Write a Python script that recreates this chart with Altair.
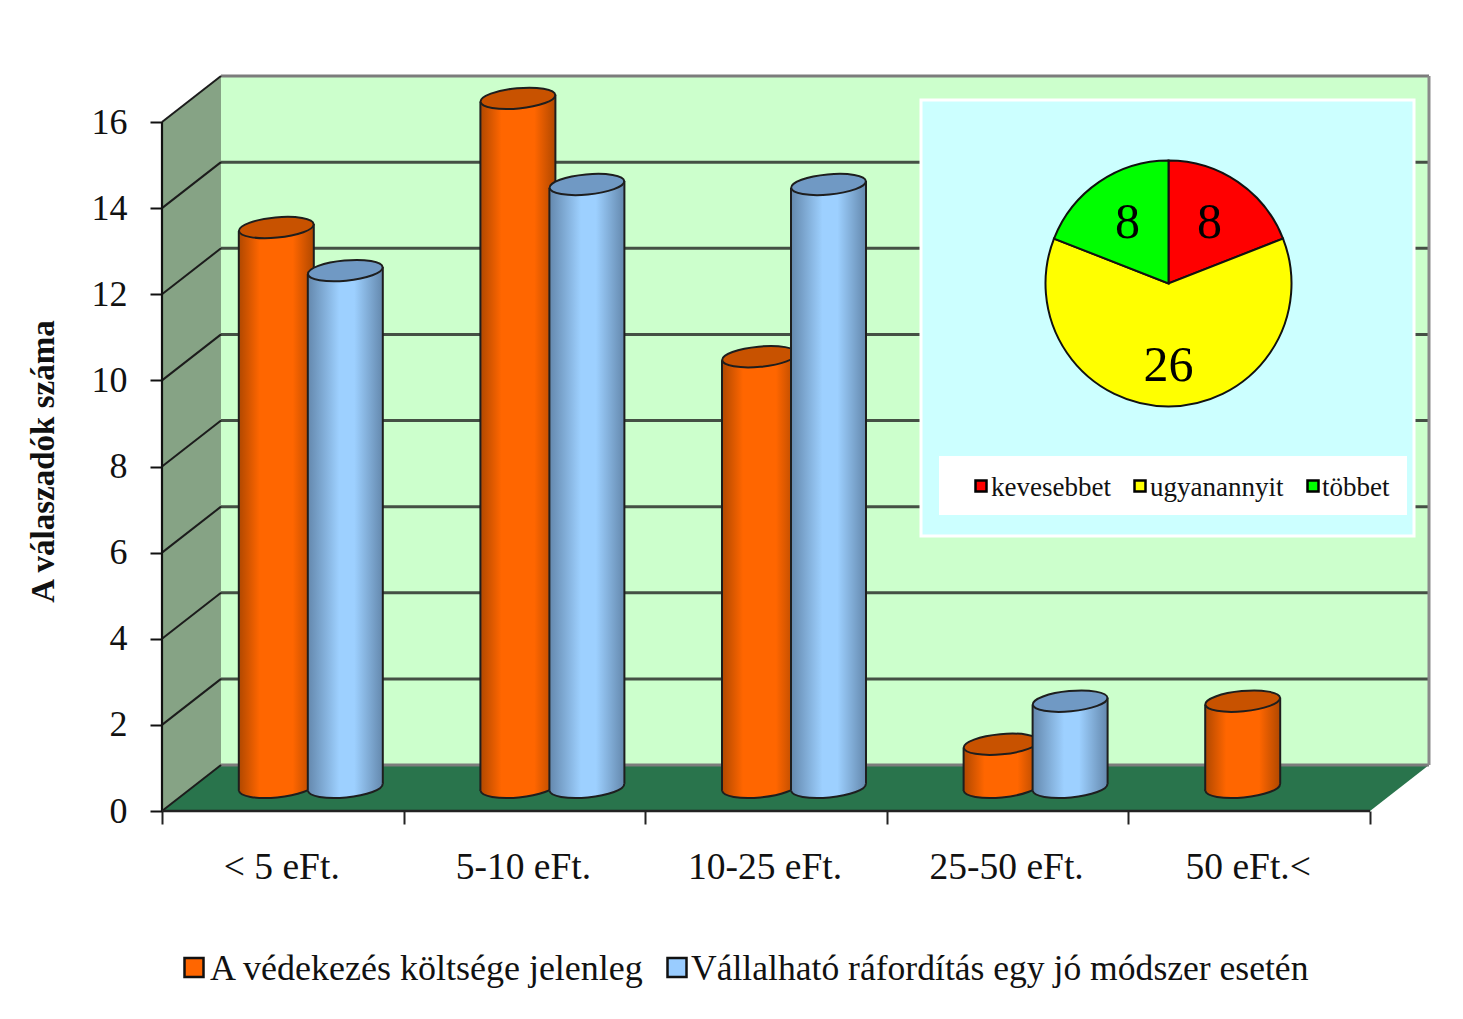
import math
import altair as alt
import pandas as pd

# ---- values ----
categories = ["< 5 eFt.", "5-10 eFt.", "10-25 eFt.", "25-50 eFt.", "50 eFt.<"]
current_cost = [13, 16, 10, 1, 2]
acceptable_cost = [12, 14, 14, 2, 0]
series_names = ["A védekezés költsége jelenleg", "Vállalható ráfordítás egy jó módszer esetén"]
y_ticks = [0, 2, 4, 6, 8, 10, 12, 14, 16]
pie_names = ["kevesebbet", "ugyanannyit", "többet"]
pie_values = [8, 26, 8]
pie_colors = ["#ff0000", "#ffff00", "#00ff00"]

# ---- geometry of the pseudo 3D frame ----
FONT = "Liberation Serif"
LEFT, TOP = 162, 76           # page position of the plot origin
W, H = 1268, 735
UX, UY = 241.6, 43.06         # pixels per category / per answer
DX, DY = 59 / UX, 46 / UY     # depth of the box
BASE = 0.55                   # cylinder floor level
TILT = 3.5 / UY
HALF = 37.5 / UX
INK = "#1e1e1e"


def px(x):
    return x - LEFT


def py(y):
    return y - TOP


x_scale = alt.Scale(domain=[0, W / UX], nice=False, zero=False)
y_scale = alt.Scale(domain=[0, H / UY], nice=False, zero=False)

x_axis = alt.Axis(values=[0, 1, 2, 3, 4, 5], labels=False, domain=False, grid=False,
                  tickSize=13, tickWidth=2, tickColor="#222222", title=None)
y_axis = alt.Axis(values=y_ticks, format="d", domain=False, grid=False,
                  tickSize=12, tickWidth=2, tickColor="#111111", labelPadding=23,
                  labelFont=FONT, labelFontSize=36, labelColor="#111111",
                  title="A válaszadók száma",
                  titleFont=FONT, titleFontSize=33, titleFontWeight="bold", titleColor="#111111",
                  titleAngle=-90, titleAlign="center", titleBaseline="alphabetic",
                  titleX=px(53), titleY=py(461))


def X(f="x"):
    return alt.X(f"{f}:Q", scale=x_scale, axis=x_axis)


def Y(f="y"):
    return alt.Y(f"{f}:Q", scale=y_scale, axis=y_axis)


def ellipse_path(rx=1.0, ry=0.27, deg=-5.3):
    k = 0.5523
    pts = [(-rx, 0), (-rx, -ry * k), (-rx * k, -ry), (0, -ry), (rx * k, -ry), (rx, -ry * k), (rx, 0),
           (rx, ry * k), (rx * k, ry), (0, ry), (-rx * k, ry), (-rx, ry * k), (-rx, 0)]
    c, s = math.cos(math.radians(deg)), math.sin(math.radians(deg))
    q = [(a * c - b * s, a * s + b * c) for a, b in pts]
    f = lambda p: f"{p[0]:.4f},{p[1]:.4f}"
    d = "M" + f(q[0])
    for i in range(1, 13, 3):
        d += "C" + f(q[i]) + " " + f(q[i + 1]) + " " + f(q[i + 2])
    return d + "Z"


CAP = ellipse_path()


def grad(edge, mid, left_stop, right_stop):
    return alt.Gradient(
        gradient="linear", x1=0, x2=1, y1=0, y2=0,
        stops=[
            alt.GradientStop(color=edge, offset=0),
            alt.GradientStop(color=mid, offset=left_stop),
            alt.GradientStop(color=mid, offset=right_stop),
            alt.GradientStop(color=edge, offset=1),
        ],
    )


def cylinders(values, offset, edge, mid, cap, stops):
    side, caps, bottoms = [], [], []
    for i, v in enumerate(values):
        if v <= 0:
            continue
        c = i + 0.5 + DX / 2 + offset
        side.append({"bar": i, "x": c - HALF, "top": v + BASE - TILT, "bot": BASE - TILT})
        side.append({"bar": i, "x": c + HALF, "top": v + BASE + TILT, "bot": BASE + TILT})
        caps.append({"x": c, "y": v + BASE})
        bottoms.append({"x": c, "y": BASE})
    side, caps, bottoms = pd.DataFrame(side), pd.DataFrame(caps), pd.DataFrame(bottoms)
    fill = grad(edge, mid, *stops)
    return [
        alt.Chart(bottoms).mark_point(shape=CAP, size=5625, filled=True, opacity=1, fill=fill,
                                      stroke=INK, strokeWidth=2).encode(x=X(), y=Y()),
        alt.Chart(side).mark_area(color=fill, opacity=1).encode(x=X(), y=Y("top"), y2="bot:Q", detail="bar:N"),
        alt.Chart(side).mark_rule(color=INK, strokeWidth=2).encode(x=X(), y=Y("top"), y2="bot:Q"),
        alt.Chart(caps).mark_point(shape=CAP, size=5625, filled=True, opacity=1, fill=cap,
                                   stroke=INK, strokeWidth=2).encode(x=X(), y=Y()),
    ]


# ---- box ----
side_wall = alt.Chart(pd.DataFrame({"x": [0, DX], "y": [16, 16 + DY], "y0": [0, DY]})).mark_area(
    color="#86a385", opacity=1
).encode(x=X(), y=Y(), y2="y0:Q")

back_wall = alt.Chart(pd.DataFrame({"x": [DX], "x2": [5 + DX], "y": [DY], "y2": [16 + DY]})).mark_rect(
    color="#ccffcc", opacity=1
).encode(x=X(), x2="x2:Q", y=Y(), y2="y2:Q")

floor = alt.Chart(pd.DataFrame({"x": [0, DX, 5, 5 + DX], "y": [0, DY, DY, DY], "y0": [0, 0, 0, DY]})).mark_area(
    color="#29744c", opacity=1
).encode(x=X(), y=Y(), y2="y0:Q")

grid_levels = [k for k in y_ticks if 0 < k < 16]
grid_back = alt.Chart(pd.DataFrame({"x": [DX] * len(grid_levels), "x2": [5 + DX] * len(grid_levels),
                                    "y": [k + DY for k in grid_levels]})).mark_rule(
    color="#445044", strokeWidth=3
).encode(x=X(), x2="x2:Q", y=Y())

edge_back = alt.Chart(pd.DataFrame({"x": [DX, DX], "x2": [5 + DX, 5 + DX], "y": [DY, 16 + DY]})).mark_rule(
    color="#7c7c7c", strokeWidth=3
).encode(x=X(), x2="x2:Q", y=Y())
edge_right = alt.Chart(pd.DataFrame({"x": [5 + DX], "y": [DY], "y2": [16 + DY]})).mark_rule(
    color="#8a8a8a", strokeWidth=3
).encode(x=X(), y=Y(), y2="y2:Q")

grid_side_rows = []
for k in y_ticks:
    grid_side_rows += [{"k": k, "x": 0, "y": k}, {"k": k, "x": DX, "y": k + DY}]
grid_side = alt.Chart(pd.DataFrame(grid_side_rows)).mark_line(color="#1c1c1c", strokeWidth=2).encode(
    x=X(), y=Y(), detail="k:N"
)

axis_y_line = alt.Chart(pd.DataFrame({"x": [0], "y": [0], "y2": [16]})).mark_rule(
    color="#111111", strokeWidth=2.2
).encode(x=X(), y=Y(), y2="y2:Q")
axis_x_line = alt.Chart(pd.DataFrame({"x": [0], "x2": [5], "y": [0]})).mark_rule(
    color="#222222", strokeWidth=2.5
).encode(x=X(), x2="x2:Q", y=Y())

# ---- category labels ----
cat_labels = alt.Chart(pd.DataFrame({"label": categories, "x": [i + 0.5 for i in range(len(categories))]})).mark_text(
    font=FONT, fontSize=37.5, baseline="alphabetic", align="center", color="#111111", dx=-1
).encode(x=X(), y=alt.value(py(879)), text="label:N")

# ---- bottom legend ----
main_legend = []
for name, fill, sq_x, tx_x, fs in zip(series_names, ["#ff6600", "#99ccff"], [194, 677], [210, 691], [36, 35.6]):
    d = pd.DataFrame({"label": [name]})
    main_legend.append(alt.Chart(d).mark_square(size=361, filled=True, opacity=1, fill=fill, stroke="#111111",
                                                strokeWidth=2.5).encode(x=alt.value(px(sq_x)), y=alt.value(py(967.5))))
    main_legend.append(alt.Chart(d).mark_text(font=FONT, fontSize=fs, align="left", baseline="alphabetic",
                                              color="#111111").encode(x=alt.value(px(tx_x)), y=alt.value(py(980)),
                                                                      text="label:N"))

# ---- inset with the pie ----
one = pd.DataFrame({"a": [0]})
inset = alt.Chart(one).mark_rect(fill="#ccffff", stroke="#ffffff", strokeWidth=3, opacity=1).encode(
    x=alt.value(px(921)), x2=alt.value(px(1414)), y=alt.value(py(100)), y2=alt.value(py(536))
)
inset_legend_box = alt.Chart(one).mark_rect(fill="#ffffff", opacity=1).encode(
    x=alt.value(px(939)), x2=alt.value(px(1407)), y=alt.value(py(456)), y2=alt.value(py(515))
)

total = sum(pie_values)
mid_angles, run = [], 0
for v in pie_values:
    mid_angles.append((run + v / 2) / total * 2 * math.pi)
    run += v
pie_df = pd.DataFrame({"name": pie_names, "value": pie_values, "color": pie_colors,
                       "idx": list(range(len(pie_names))), "mid": mid_angles, "r": [73, 82, 73]})
PIE_X, PIE_Y = alt.value(px(1168.5)), alt.value(py(283.5))
pie = alt.Chart(pie_df).mark_arc(radius=123, stroke="#111111", strokeWidth=2, opacity=1).encode(
    theta=alt.Theta("value:Q", stack=True),
    color=alt.Color("color:N", scale=None),
    order=alt.Order("idx:Q"),
    x=PIE_X, y=PIE_Y,
)
pie_text = alt.Chart(pie_df).mark_text(font=FONT, fontSize=50, align="center", baseline="middle", color="#000000").encode(
    theta=alt.Theta("mid:Q", scale=None, stack=False),
    radius=alt.Radius("r:Q", scale=None),
    text="value:Q",
    x=PIE_X, y=PIE_Y,
)

small_legend = []
for name, fill, sq_x, tx_x in zip(pie_names, pie_colors, [981, 1140, 1313], [991, 1150, 1322]):
    d = pd.DataFrame({"label": [name]})
    small_legend.append(alt.Chart(d).mark_square(size=121, filled=True, opacity=1, fill=fill, stroke="#000000",
                                                 strokeWidth=2.5).encode(x=alt.value(px(sq_x)), y=alt.value(py(486))))
    small_legend.append(alt.Chart(d).mark_text(font=FONT, fontSize=27, align="left", baseline="alphabetic",
                                               color="#111111").encode(x=alt.value(px(tx_x)), y=alt.value(py(496)),
                                                                       text="label:N"))

layers = [side_wall, back_wall, floor, grid_back, edge_back, edge_right, grid_side, axis_y_line, axis_x_line]
layers += cylinders(current_cost, -36 / UX, "#b04800", "#ff6600", "#c85200", (0.28, 0.72))
layers += cylinders(acceptable_cost, 33 / UX, "#6488ad", "#9dd0ff", "#7099c4", (0.42, 0.62))
layers += [inset, pie, pie_text, inset_legend_box] + small_legend + [cat_labels] + main_legend

chart = alt.layer(*layers).properties(
    width=W, height=H,
    padding={"left": LEFT - 8, "top": TOP - 8, "right": 25, "bottom": 190},
    autosize=alt.AutoSizeParams(type="none"),
    background="#ffffff",
).configure_view(stroke=None)

chart.save("out.html", embed_options={"renderer": "svg", "actions": False})
